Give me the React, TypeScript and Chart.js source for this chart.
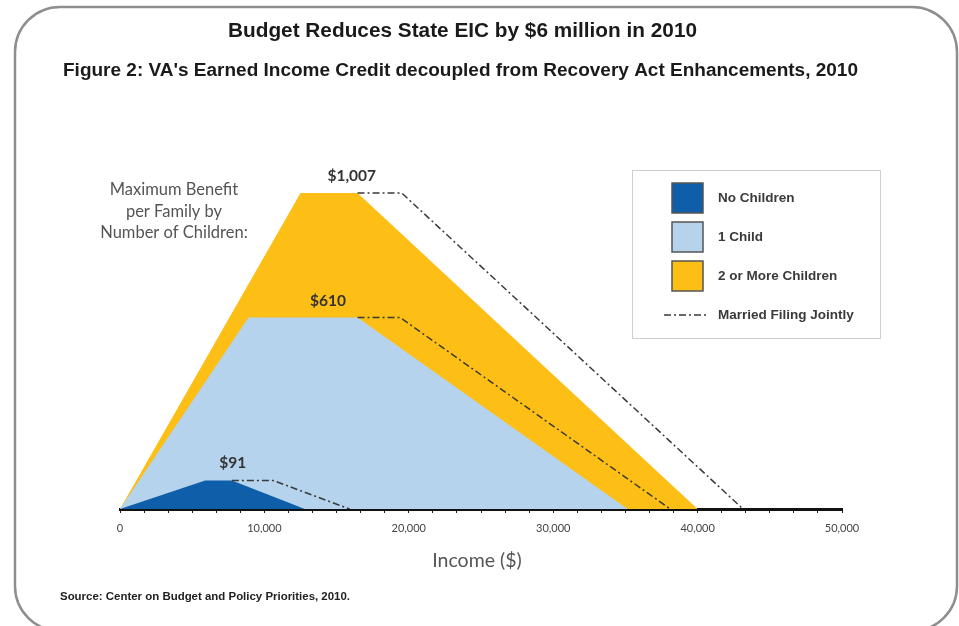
import React, { useEffect, useRef } from 'react';
import { Chart, registerables } from 'chart.js';

Chart.register(...registerables);

// ---- data ----
const incomeTicks = [
  0, 1667, 3333, 5000, 6667, 8333, 10000, 11667, 13333, 15000, 16667, 18333,
  20000, 21667, 23333, 25000, 26667, 28333, 30000, 31667, 33333, 35000, 36667,
  38333, 40000, 41667, 43333, 45000, 46667, 48333, 50000,
];

const noChildrenX = [0, 5900, 7750, 12800];
const noChildrenY = [0, 91, 91, 0];
const noChildrenMfjX = [7750, 10600, 15900];
const noChildrenMfjY = [91, 91, 0];

const oneChildX = [0, 8900, 16450, 35150];
const oneChildY = [0, 610, 610, 0];
const oneChildMfjX = [16450, 19400, 38100];
const oneChildMfjY = [610, 610, 0];

const twoPlusX = [0, 12500, 16450, 40000];
const twoPlusY = [0, 1007, 1007, 0];
const twoPlusMfjX = [16450, 19500, 43150];
const twoPlusMfjY = [1007, 1007, 0];

const maxBenefitText = ['$91', '$610', '$1,007'];
const maxBenefitValue = [91, 610, 1007];
const maxBenefitAnchorX = [7800, 14400, 16050];

const titleText = 'Budget Reduces State EIC by $6 million in 2010';
const subtitleText =
  "Figure 2: VA's Earned Income Credit decoupled from Recovery Act Enhancements, 2010";
const noteLines = ['Maximum Benefit', 'per Family by', 'Number of Children:'];
const xAxisTitle = 'Income ($)';
const sourceText = 'Source: Center on Budget and Policy Priorities, 2010.';

const DARK_BLUE = '#0e5ea9';
const LIGHT_BLUE = '#b5d3ec';
const GOLD = '#fdbf15';
const DASH_COLOR = '#3a3a3a';
const DASH = [7, 3, 2, 3];

const ARIAL = '"Liberation Sans", Arial, sans-serif';
const CAL = 'Lato, "Open Sans", sans-serif';

const pts = (xs: number[], ys: number[]) => xs.map((x, i) => ({ x, y: ys[i] }));

// draw text fitted horizontally to a given width
const fitText = (
  ctx: CanvasRenderingContext2D,
  text: string,
  x: number,
  y: number,
  width: number,
  font: string,
) => {
  ctx.font = font;
  const w = ctx.measureText(text).width;
  ctx.save();
  ctx.translate(x, y);
  ctx.scale(width / w, 1);
  ctx.fillText(text, 0, 0);
  ctx.restore();
};

const decorPlugin = {
  id: 'decor',
  afterDraw(chart: any) {
    const ctx: CanvasRenderingContext2D = chart.ctx;
    const xs = chart.scales.x;
    const ys = chart.scales.y;
    ctx.save();

    // rounded frame
    ctx.strokeStyle = '#8e8e8e';
    ctx.lineWidth = 2.5;
    const fx = 15, fy = 7, fw = 942, fh = 624, r = 45;
    ctx.beginPath();
    ctx.moveTo(fx + r, fy);
    ctx.lineTo(fx + fw - r, fy);
    ctx.arcTo(fx + fw, fy, fx + fw, fy + r, r);
    ctx.lineTo(fx + fw, fy + fh - r);
    ctx.arcTo(fx + fw, fy + fh, fx + fw - r, fy + fh, r);
    ctx.lineTo(fx + r, fy + fh);
    ctx.arcTo(fx, fy + fh, fx, fy + fh - r, r);
    ctx.lineTo(fx, fy + r);
    ctx.arcTo(fx, fy, fx + r, fy, r);
    ctx.closePath();
    ctx.stroke();

    // titles
    ctx.fillStyle = '#1a1a1a';
    ctx.textAlign = 'center';
    ctx.textBaseline = 'middle';
    fitText(ctx, titleText, 462.5, 31, 469, `bold 20px ${ARIAL}`);
    fitText(ctx, subtitleText, 460.5, 71, 795, `bold 17.5px ${ARIAL}`);

    // note at left
    ctx.fillStyle = '#555';
    ctx.font = `16.5px ${CAL}`;
    const noteY = [190, 212, 233];
    noteLines.forEach((t, i) => ctx.fillText(t, 174, noteY[i]));

    // max benefit labels
    ctx.fillStyle = '#333';
    ctx.font = `bold 15.5px ${CAL}`;
    maxBenefitText.forEach((t, i) => {
      const px = xs.getPixelForValue(maxBenefitAnchorX[i]);
      const py = ys.getPixelForValue(maxBenefitValue[i]);
      ctx.fillText(t, px, py - 17);
    });

    // axis title
    ctx.fillStyle = '#555';
    ctx.font = `19.5px ${CAL}`;
    ctx.fillText(xAxisTitle, 477, 561);

    // source
    ctx.textAlign = 'left';
    ctx.fillStyle = '#222';
    fitText(ctx, sourceText, 60, 597, 290, `bold 11px ${ARIAL}`);

    // legend
    ctx.strokeStyle = '#cfcfcf';
    ctx.lineWidth = 1;
    ctx.strokeRect(632.5, 170.5, 248, 168);
    const items = chart.data.datasets.filter((d: any) => d.legendRow !== undefined);
    const rowY = [198, 237, 276, 315];
    ctx.font = `bold 13.5px ${ARIAL}`;
    items.forEach((d: any) => {
      const y = rowY[d.legendRow];
      if (d.fill) {
        ctx.fillStyle = d.backgroundColor;
        ctx.fillRect(672, y - 15, 31, 30);
        ctx.strokeStyle = '#555';
        ctx.lineWidth = 1.5;
        ctx.strokeRect(672, y - 15, 31, 30);
      } else {
        ctx.strokeStyle = d.borderColor;
        ctx.lineWidth = d.borderWidth;
        ctx.setLineDash(d.borderDash);
        ctx.beginPath();
        ctx.moveTo(664, y);
        ctx.lineTo(708, y);
        ctx.stroke();
        ctx.setLineDash([]);
      }
      ctx.fillStyle = '#3a3a3a';
      ctx.textAlign = 'left';
      ctx.fillText(d.label, 718, y);
    });

    ctx.restore();
  },
};

const App = () => {
  const ref = useRef<HTMLCanvasElement>(null);
  useEffect(() => {
    const canvas = ref.current!;
    const area = (label: string, xs: number[], ys: number[], color: string, order: number, row: number) => ({
      label,
      data: pts(xs, ys),
      backgroundColor: color,
      borderColor: 'rgba(0,0,0,0)',
      borderWidth: 1,
      fill: 'origin',
      pointRadius: 0,
      tension: 0,
      order,
      legendRow: row,
    });
    const mfj = (xs: number[], ys: number[], row?: number) => ({
      label: 'Married Filing Jointly',
      data: pts(xs, ys),
      borderColor: DASH_COLOR,
      borderWidth: 1.5,
      borderDash: DASH,
      fill: false,
      pointRadius: 0,
      tension: 0,
      order: 0,
      legendRow: row,
    });
    const chart = new Chart(canvas, {
      type: 'line',
      data: {
        datasets: [
          area('No Children', noChildrenX, noChildrenY, DARK_BLUE, 1, 0),
          area('1 Child', oneChildX, oneChildY, LIGHT_BLUE, 2, 1),
          area('2 or More Children', twoPlusX, twoPlusY, GOLD, 3, 2),
          mfj(noChildrenMfjX, noChildrenMfjY, 3),
          mfj(oneChildMfjX, oneChildMfjY),
          mfj(twoPlusMfjX, twoPlusMfjY),
        ] as any,
      },
      options: {
        animation: false,
        responsive: false,
        layout: { padding: { left: 120, right: 117, top: 148, bottom: 77 } },
        plugins: { legend: { display: false }, tooltip: { enabled: false } },
        scales: {
          x: {
            type: 'linear',
            min: 0,
            max: 50000,
            afterBuildTicks: (s: any) => {
              s.ticks = incomeTicks.map((v) => ({ value: v }));
            },
            afterFit: (s: any) => {
              s.height = 40;
            },
            ticks: {
              autoSkip: false,
              maxRotation: 0,
              padding: 9,
              color: '#444',
              font: { family: CAL, size: 11 },
              callback: (v: any) => {
                const n = Math.round(Number(v));
                return n % 10000 === 0 ? n.toLocaleString('en-US') : '';
              },
            },
            grid: { drawOnChartArea: false, drawTicks: true, tickLength: 4, color: '#222', lineWidth: 1 },
            border: { display: true, color: '#111', width: 3 },
          },
          y: { display: false, min: 0, max: 1150 },
        },
      } as any,
      plugins: [decorPlugin],
    });
    return () => chart.destroy();
  }, []);
  return (
    <div style={{ position: 'fixed', left: 0, top: 0, width: 959, height: 626, background: '#fff' }}>
      <canvas ref={ref} width={959} height={626} style={{ display: 'block' }} />
    </div>
  );
};

export default App;
